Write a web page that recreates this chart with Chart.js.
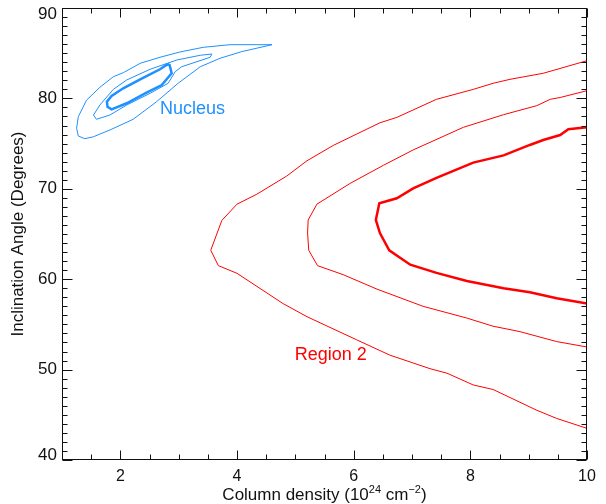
<!DOCTYPE html>
<html>
<head>
<meta charset="utf-8">
<script src="https://cdn.jsdelivr.net/npm/chart.js@4.4.0/dist/chart.umd.min.js"></script>
<style>
  html, body { margin: 0; padding: 0; background: #fff; }
  #wrap { width: 606px; height: 504px; }
</style>
</head>
<body>
<div id="wrap"><canvas id="contourChart" width="606" height="504"></canvas></div>
<script>
// Contours: column density (x) vs inclination (y)
const region2OuterX = [10.0, 9.25, 8.68, 8.39, 8.05, 7.42, 6.74, 6.45, 5.65, 5.20, 4.85, 4.34, 4.00, 3.74, 3.55, 3.68, 4.00, 4.79, 5.20, 6.05, 6.62, 7.31, 7.60, 8.05, 8.39, 9.14, 9.48, 10.0];
const region2OuterY = [84.17, 82.78, 82.11, 81.67, 81.0, 79.9, 77.9, 77.3, 74.8, 73.1, 71.4, 69.4, 68.3, 66.5, 63.2, 61.5, 60.65, 57.3, 55.85, 53.3, 51.6, 50.1, 49.6, 48.3, 47.8, 45.5, 44.6, 43.5];

const region2MidX = [10.0, 9.54, 9.37, 9.14, 8.57, 7.88, 7.02, 6.51, 5.94, 5.37, 5.22, 5.21, 5.23, 5.38, 5.82, 6.40, 7.19, 7.94, 8.39, 8.85, 9.48, 10.0];
const region2MidY = [80.85, 80.1, 79.9, 79.2, 78.2, 76.8, 74.3, 72.6, 70.6, 68.3, 66.55, 65.1, 63.2, 61.5, 60.5, 58.9, 57.0, 55.7, 54.8, 54.2, 53.1, 52.5];

const region2InnerX = [10.0, 9.68, 9.54, 9.25, 9.02, 8.57, 8.05, 7.42, 7.02, 6.74, 6.44, 6.38, 6.45, 6.61, 6.97, 7.42, 7.94, 8.57, 9.02, 9.48, 10.0];
const region2InnerY = [76.8, 76.6, 75.95, 75.4, 74.85, 73.7, 72.9, 71.2, 70.05, 68.95, 68.4, 66.55, 65.1, 63.2, 61.6, 60.7, 59.8, 59.0, 58.55, 57.9, 57.3];

const nucleusOuterX = [4.60, 3.88, 3.42, 3.02, 2.68, 2.34, 2.05, 1.88, 1.65, 1.42, 1.28, 1.25, 1.28, 1.39, 1.54, 1.82, 2.22, 2.62, 2.99, 3.37, 3.71, 4.08];
const nucleusOuterY = [85.94, 85.94, 85.65, 85.13, 84.55, 83.88, 82.84, 82.4, 81.23, 79.8, 77.98, 76.7, 75.84, 75.54, 75.76, 76.5, 77.69, 79.63, 81.67, 83.5, 84.44, 85.17];

const nucleusMidX = [3.57, 3.54, 3.05, 2.94, 2.82, 2.51, 2.11, 1.82, 1.59, 1.54, 1.65, 1.88, 2.11, 2.51, 2.97, 3.37];
const nucleusMidY = [84.91, 84.55, 83.5, 82.95, 81.67, 80.56, 79.27, 78.16, 77.69, 78.16, 79.27, 81.0, 82.04, 83.22, 84.25, 84.77];

const nucleusInnerX = [2.84, 2.88, 2.71, 2.45, 2.11, 1.85, 1.78, 1.77, 1.85, 2.05, 2.34, 2.68, 2.79];
const nucleusInnerY = [83.81, 82.78, 81.48, 80.63, 79.46, 78.79, 79.08, 79.63, 80.27, 81.12, 82.11, 83.22, 83.7];

// Axis ticks
const xTickLabels = [2, 4, 6, 8, 10];
const yTickLabels = [40, 50, 60, 70, 80, 90];

const blue = 'rgb(30,144,255)';
const red = 'rgb(255,0,0)';
const font = '"Liberation Sans", Arial, Helvetica, sans-serif';

function toPoints(xs, ys, closed) {
    const pts = xs.map((v, i) => ({ x: v, y: ys[i] }));
    if (closed) pts.push({ x: xs[0], y: ys[0] });
    return pts;
}

function contour(xs, ys, color, width, closed) {
    return {
        data: toPoints(xs, ys, closed),
        showLine: true,
        borderColor: color,
        borderWidth: width,
        pointRadius: 0,
        fill: false,
        tension: 0
    };
}

// frame, inward ticks on all sides, labels and titles (IDL look)
const axisDecor = {
    id: 'axisDecor',
    afterDraw(chart) {
        const { ctx, chartArea: a, scales: { x, y } } = chart;
        const L = Math.round(a.left) + 0.5, R = Math.round(a.right) - 0.5;
        const T = Math.round(a.top) + 0.5, B = Math.round(a.bottom) - 0.5;
        ctx.save();
        ctx.strokeStyle = '#111';
        ctx.lineWidth = 1;
        ctx.strokeRect(L, T, R - L, B - T);

        ctx.beginPath();
        for (let v = 1; v <= 10.001; v += 0.5) {
            const px = Math.round(x.getPixelForValue(v)) + 0.5;
            const len = xTickLabels.includes(v) ? 9 : 5;
            ctx.moveTo(px, B); ctx.lineTo(px, B - len);
            ctx.moveTo(px, T); ctx.lineTo(px, T + len);
        }
        for (let v = 40; v <= 90; v += 1) {
            const py = Math.round(y.getPixelForValue(v)) + 0.5;
            const len = yTickLabels.includes(v) ? 10 : 5;
            ctx.moveTo(L, py); ctx.lineTo(L + len, py);
            ctx.moveTo(R, py); ctx.lineTo(R - len, py);
        }
        ctx.stroke();

        ctx.fillStyle = '#111';
        ctx.font = '17px ' + font;
        ctx.textAlign = 'right';
        ctx.textBaseline = 'middle';
        yTickLabels.forEach(v => {
            let py = y.getPixelForValue(v);
            py = Math.min(Math.max(py, a.top + 6), a.bottom - 5);
            ctx.fillText(String(v), a.left - 5, py);
        });
        ctx.textAlign = 'center';
        ctx.font = '16px ' + font;
        xTickLabels.forEach(v => {
            ctx.fillText(String(v), x.getPixelForValue(v), a.bottom + 17);
        });

        // y title
        ctx.save();
        ctx.translate(18, (a.top + a.bottom) / 2);
        ctx.rotate(-Math.PI / 2);
        ctx.font = '17px ' + font;
        ctx.fillText('Inclination Angle (Degrees)', 0, 0);
        ctx.restore();

        // x title with superscripts
        const parts = [
            { t: 'Column density (10', s: 17, dy: 0 },
            { t: '24', s: 11, dy: -7 },
            { t: ' cm', s: 17, dy: 0 },
            { t: '\u22122', s: 11, dy: -7 },
            { t: ')', s: 17, dy: 0 }
        ];
        let total = 0;
        parts.forEach(p => { ctx.font = p.s + 'px ' + font; p.w = ctx.measureText(p.t).width; total += p.w; });
        let cx = (a.left + a.right) / 2 - total / 2;
        ctx.textAlign = 'left';
        ctx.textBaseline = 'alphabetic';
        parts.forEach(p => {
            ctx.font = p.s + 'px ' + font;
            ctx.fillText(p.t, cx, 500 + p.dy);
            cx += p.w;
        });

        // contour labels
        ctx.font = '18px ' + font;
        ctx.fillStyle = blue;
        ctx.fillText('Nucleus', x.getPixelForValue(2.68), y.getPixelForValue(78.27));
        ctx.fillStyle = red;
        ctx.fillText('Region 2', x.getPixelForValue(4.99), y.getPixelForValue(51.06));
        ctx.restore();
    }
};

const ctx = document.getElementById('contourChart').getContext('2d');
new Chart(ctx, {
    type: 'scatter',
    data: {
        datasets: [
            contour(region2OuterX, region2OuterY, red, 1, false),
            contour(region2MidX, region2MidY, red, 1, false),
            contour(region2InnerX, region2InnerY, red, 2.5, false),
            contour(nucleusOuterX, nucleusOuterY, blue, 1, true),
            contour(nucleusMidX, nucleusMidY, blue, 1, true),
            contour(nucleusInnerX, nucleusInnerY, blue, 2.5, true)
        ]
    },
    options: {
        responsive: false,
        animation: false,
        devicePixelRatio: 1,
        layout: { padding: { left: 0, right: 19, top: 8, bottom: 0 } },
        plugins: {
            legend: { display: false },
            tooltip: { enabled: false }
        },
        scales: {
            x: {
                type: 'linear',
                min: 1,
                max: 10,
                ticks: { display: false },
                grid: { display: false },
                border: { display: false },
                afterFit: s => { s.height = 44; }
            },
            y: {
                type: 'linear',
                min: 40,
                max: 90,
                ticks: { display: false },
                grid: { display: false },
                border: { display: false },
                afterFit: s => { s.width = 62; }
            }
        }
    },
    plugins: [axisDecor]
});
</script>
</body>
</html>
